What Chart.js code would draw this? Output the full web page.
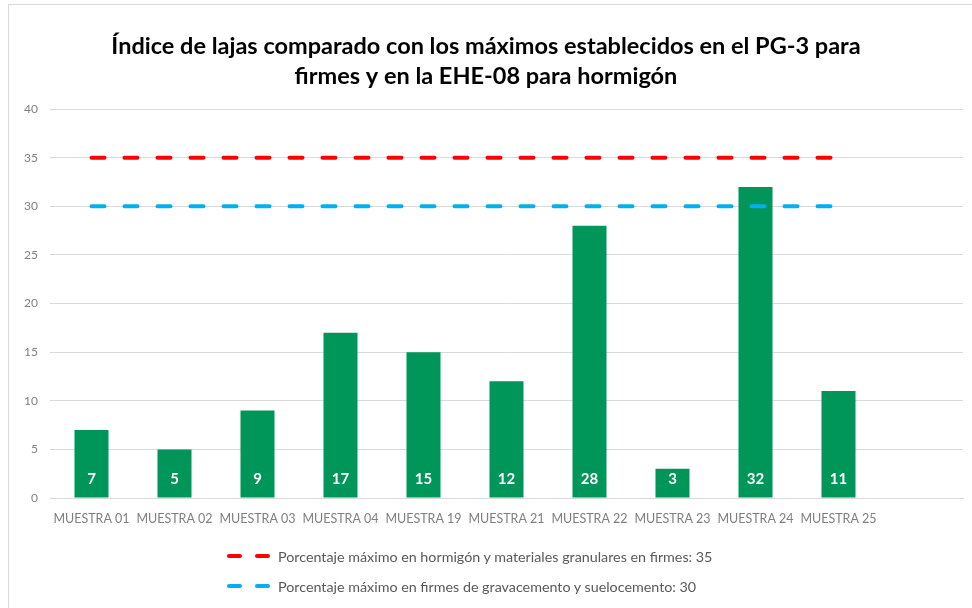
<!DOCTYPE html>
<html>
<head>
<meta charset="utf-8">
<script src="https://cdn.jsdelivr.net/npm/chart.js@4.4.0/dist/chart.umd.min.js"></script>
<style>
    body { margin: 0; background: #fff; font-family: Lato, "Open Sans", sans-serif; }
    #wrap { position: absolute; left: 8px; top: 4px; width: 980px; height: 620px; border: 1px solid #d9d9d9; box-sizing: border-box; }
    #chart { position: absolute; left: 0; top: 0; }
    #legend { position: absolute; left: 218px; top: 536px; font-size: 14.3px; color: #595959; }
    .item { height: 30px; display: flex; align-items: center; }
    .dash { display: inline-block; width: 15px; height: 4px; border-radius: 2px; margin-right: 13px; }
    .item span.txt { margin-left: -5px; }
</style>
</head>
<body>
<div id="wrap">
    <canvas id="chart" width="974" height="540"></canvas>
    <div id="legend"></div>
</div>
<script>
var categories = ['MUESTRA 01', 'MUESTRA 02', 'MUESTRA 03', 'MUESTRA 04', 'MUESTRA 19', 'MUESTRA 21', 'MUESTRA 22', 'MUESTRA 23', 'MUESTRA 24', 'MUESTRA 25', ''];
var lajas = [7, 5, 9, 17, 15, 12, 28, 3, 32, 11, null];
var maxHormigon = [35, 35, 35, 35, 35, 35, 35, 35, 35, 35, null];
var maxGravacemento = [30, 30, 30, 30, 30, 30, 30, 30, 30, 30, null];
var labelHormigon = 'Porcentaje máximo en hormigón y materiales granulares en firmes:  35';
var labelGrava = 'Porcentaje máximo en firmes de gravacemento y suelocemento: 30';
var titleLines = ['Índice de lajas comparado con los máximos establecidos en el PG-3 para', 'firmes y en la EHE-08 para hormigón'];

var green = '#00965a';
var red = '#ff0000';
var blue = '#00b0f0';

// white numbers at the foot of each bar
var barValues = {
    id: 'barValues',
    afterDatasetsDraw: function (chart) {
        var ctx = chart.ctx;
        var meta = chart.getDatasetMeta(0);
        var bottom = chart.scales.y.getPixelForValue(0);
        ctx.save();
        ctx.fillStyle = '#ffffff';
        ctx.font = 'bold 15px Lato, "Open Sans", sans-serif';
        ctx.textAlign = 'center';
        ctx.textBaseline = 'middle';
        meta.data.forEach(function (bar, i) {
            if (lajas[i] == null) return;
            ctx.fillText(lajas[i], bar.x, bottom - 19);
        });
        ctx.restore();
    }
};

var ctx = document.getElementById('chart');
var chart = new Chart(ctx, {
    data: {
        labels: categories,
        datasets: [{
            type: 'bar',
            label: 'Índice de lajas',
            data: lajas,
            backgroundColor: green,
            barPercentage: 0.41,
            categoryPercentage: 1,
            order: 2
        }, {
            type: 'line',
            label: labelHormigon,
            data: maxHormigon,
            borderColor: red,
            backgroundColor: red,
            borderWidth: 4,
            borderDash: [13, 20],
            borderCapStyle: 'round',
            pointRadius: 0,
            order: 1
        }, {
            type: 'line',
            label: labelGrava,
            data: maxGravacemento,
            borderColor: blue,
            backgroundColor: blue,
            borderWidth: 4,
            borderDash: [13, 20],
            borderCapStyle: 'round',
            pointRadius: 0,
            order: 0
        }]
    },
    options: {
        responsive: false,
        animation: false,
        layout: { padding: { left: 0, right: 20, top: 0, bottom: 0 } },
        plugins: {
            legend: { display: false },
            tooltip: { enabled: false },
            title: {
                display: true,
                text: titleLines,
                color: '#000000',
                font: { family: 'Lato, "Open Sans", sans-serif', size: 23.5, weight: 'bold', lineHeight: 1.28 },
                padding: { top: 26, bottom: 18 }
            }
        },
        scales: {
            x: {
                grid: { display: false, drawTicks: false },
                border: { display: true, color: '#d9d9d9' },
                ticks: { color: '#7f7f7f', font: { size: 12.5, family: 'Lato, "Open Sans", sans-serif' }, padding: 13, maxRotation: 0, autoSkip: false },
                afterFit: function (s) { s.height = 47; }
            },
            y: {
                min: 0,
                max: 40,
                ticks: { stepSize: 5, color: '#7f7f7f', font: { size: 12, family: 'Lato, "Open Sans", sans-serif' }, padding: 12 },
                grid: { color: '#d9d9d9', drawTicks: false },
                border: { display: false },
                afterFit: function (s) { s.width = 41; }
            }
        }
    },
    plugins: [barValues]
});

// legend below the plot, built from the line datasets
var legend = document.getElementById('legend');
chart.data.datasets.slice(1).forEach(function (ds) {
    var row = document.createElement('div');
    row.className = 'item';
    row.innerHTML = '<span class="dash" style="background:' + ds.borderColor + '"></span>' +
        '<span class="dash" style="background:' + ds.borderColor + '"></span>' +
        '<span class="txt"></span>';
    row.querySelector('.txt').textContent = ds.label;
    legend.appendChild(row);
});
</script>
</body>
</html>
